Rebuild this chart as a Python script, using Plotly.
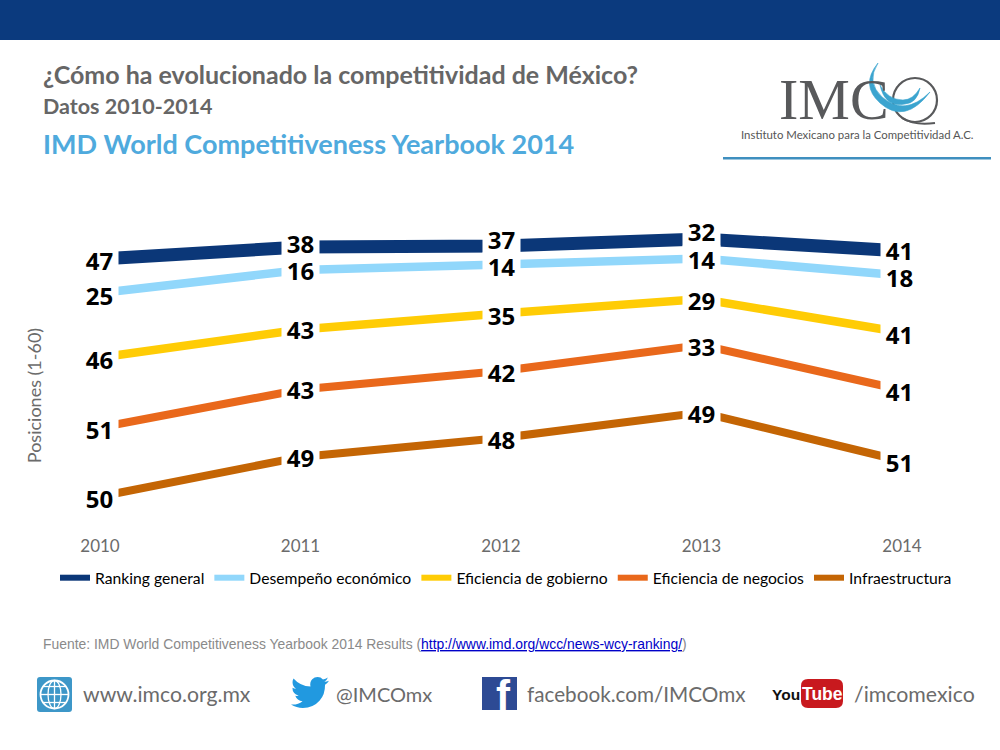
import plotly.graph_objects as go

# ---------- data ----------
years = [2010, 2011, 2012, 2013, 2014]
series_names = ["Ranking general", "Desempeño económico", "Eficiencia de gobierno",
                "Eficiencia de negocios", "Infraestructura"]
# drawn heights of the lines (the source chart is not to scale with its labels)
ranking_height = [271, 283, 284, 291, 279]
desempeno_height = [237, 260, 265.5, 271.5, 254.5]
gobierno_height = [172.5, 200.5, 216.5, 231, 197.5]
negocios_height = [102.5, 140.5, 159, 185, 140]
infra_height = [33.5, 73, 92, 117.5, 69]
# printed labels
ranking_labels = [47, 38, 37, 32, 41]
desempeno_labels = [25, 16, 14, 14, 18]
gobierno_labels = [46, 43, 35, 29, 41]
negocios_labels = [51, 43, 42, 33, 41]
infra_labels = [50, 49, 48, 49, 51]
series_colors = ["#0B3778", "#91D7FB", "#FFCC05", "#E9681B", "#C46504"]

heights = [ranking_height, desempeno_height, gobierno_height, negocios_height, infra_height]
labels = [ranking_labels, desempeno_labels, gobierno_labels, negocios_labels, infra_labels]
widths = [13, 8.5, 8.5, 8, 8]

SANS = "Lato"
GRAY = "#6B6B6B"


def px(x):
    return x / 1000


def py(y):
    return 1 - y / 750


def path(cmds):
    """cmds: list of (letter, x1, y1, ...) in page pixels"""
    out = []
    for c in cmds:
        if c[0] == "Z":
            out.append("Z")
            continue
        vals = []
        for i, v in enumerate(c[1:]):
            vals.append(f"{px(v) if i % 2 == 0 else py(v):.5f}")
        out.append(c[0] + " " + " ".join(vals))
    return " ".join(out)


def rrect(x0, y0, x1, y1, r):
    return path([("M", x0 + r, y0), ("L", x1 - r, y0), ("Q", x1, y0, x1, y0 + r), ("L", x1, y1 - r),
                 ("Q", x1, y1, x1 - r, y1), ("L", x0 + r, y1), ("Q", x0, y1, x0, y1 - r), ("L", x0, y0 + r),
                 ("Q", x0, y0, x0 + r, y0), ("Z",)])


fig = go.Figure()
for name, h, col, w in zip(series_names, heights, series_colors, widths):
    fig.add_trace(go.Scatter(x=years, y=h, mode="lines", line=dict(color=col, width=w),
                             showlegend=False, hoverinfo="skip"))
for name, col in zip(series_names, series_colors):
    fig.add_trace(go.Scatter(x=[None], y=[None], mode="lines", name=name,
                             line=dict(color=col, width=6)))

shapes = []
anns = []


def rect(x0, y0, x1, y1, col):
    shapes.append(dict(type="rect", xref="paper", yref="paper", x0=px(x0), x1=px(x1), y0=py(y0), y1=py(y1),
                       fillcolor=col, line=dict(width=0), layer="below"))


def shape_path(d, fill=None, line=None, lw=0):
    shapes.append(dict(type="path", xref="paper", yref="paper", path=d,
                       fillcolor=fill if fill else "rgba(0,0,0,0)",
                       line=dict(color=line if line else "rgba(0,0,0,0)", width=lw), layer="above"))


def ellipse(x0, y0, x1, y1, line, lw):
    shapes.append(dict(type="circle", xref="paper", yref="paper", x0=px(x0), x1=px(x1), y0=py(y0), y1=py(y1),
                       fillcolor="rgba(0,0,0,0)", line=dict(color=line, width=lw), layer="above"))


def text(t, x, y, size, color, family=SANS, bold=False, xanchor="left"):
    left_pad = 2 if xanchor == "left" else 0
    anns.append(dict(text=f"<b>{t}</b>" if bold else t, xref="paper", yref="paper", x=px(x - left_pad), y=py(y),
                     xanchor=xanchor, yanchor="middle", showarrow=False,
                     font=dict(family=family, size=size, color=color)))


# header band and titles
rect(0, 0, 1000, 40, "#0B3A7E")
text("¿Cómo ha evolucionado la competitividad de México?", 43, 74, 25, "#666666", bold=True)
text("Datos 2010-2014", 43, 106, 21.5, "#666666", bold=True)
text("IMD World Competitiveness Yearbook 2014", 43, 144, 27, "#4FAADD", bold=True)

# logo
text("IMC", 779, 99, 58, "#58595B", family="Liberation Serif")
text("Instituto Mexicano para la Competitividad A.C.", 741, 135, 11.4, "#555555")
rect(723, 157, 991, 159.5, "#3F8FBF")
ellipse(893, 78, 937, 122, "#58595B", 2.2)
shape_path(path([("M", 902, 118), ("Q", 915, 126, 935, 123)]), line="#58595B", lw=2)
shape_path(path([("M", 878, 63), ("Q", 860, 85, 880, 103), ("Q", 905, 125, 930, 92),
                 ("Q", 905, 117, 882, 97), ("Q", 866, 82, 878, 63), ("Z",)]), fill="#3BA4CF", line="#3BA4CF", lw=0.6)
shape_path(path([("M", 880, 85), ("Q", 885, 108, 905, 104), ("Q", 917, 103, 920, 88),
                 ("Q", 913, 100, 903, 100), ("Q", 888, 100, 880, 85), ("Z",)]), fill="#3BA4CF", line="#3BA4CF", lw=0.6)

# source
text('Fuente: IMD World Competitiveness Yearbook 2014 Results (<span style="color:#0000C8"><u>http://www.imd.org/wcc/news-wcy-ranking/</u></span>)',
     43, 644, 13.9, "#8A8A8A", family="Liberation Sans")

# footer: globe
shape_path(rrect(37, 677, 72, 712, 3), fill="#3D97C8")
ellipse(40.5, 680.5, 68.5, 708.5, "white", 1.8)
ellipse(48, 680.5, 61, 708.5, "white", 1.3)
shape_path(path([("M", 54.5, 680.5), ("L", 54.5, 708.5)]), line="white", lw=1.3)
shape_path(path([("M", 40.5, 694.5), ("L", 68.5, 694.5)]), line="white", lw=1.3)
shape_path(path([("M", 43, 686.5), ("L", 66, 686.5)]), line="white", lw=1.3)
shape_path(path([("M", 43, 702.5), ("L", 66, 702.5)]), line="white", lw=1.3)
text("www.imco.org.mx", 83, 694, 21.2, GRAY)

# footer: bird
bird = [("M", 24, 4.6), ("Q", 22.6, 5.2, 21.1, 5.35), ("Q", 22.6, 4.4, 23.3, 2.6), ("Q", 21.9, 3.5, 20.2, 3.8),
        ("Q", 18.8, 2.3, 16.8, 2.3), ("Q", 14.8, 2.3, 13.4, 3.7), ("Q", 11.7, 5.6, 12.3, 8.3),
        ("Q", 5.8, 8, 1.6, 3.2), ("Q", 0.97, 4.3, 0.97, 5.6), ("Q", 0.97, 8.2, 3.2, 9.7), ("Q", 2, 9.7, 0.9, 9.1),
        ("Q", 0.9, 12.9, 4.9, 14), ("Q", 3.8, 14.3, 2.7, 14.1), ("Q", 3.8, 17.2, 7.3, 17.5),
        ("Q", 4.2, 20, 0, 19.6), ("Q", 3.4, 21.8, 7.5, 21.8), ("Q", 14, 21.8, 18, 17.3),
        ("Q", 21.6, 13.3, 21.5, 7.2), ("Q", 23, 6.2, 24, 4.6), ("Z",)]
bird_px = []
for c in bird:
    if c[0] == "Z":
        bird_px.append(c)
        continue
    vals = [c[0]]
    for i, v in enumerate(c[1:]):
        vals.append(291 + v * 38 / 24 if i % 2 == 0 else 677 + (v - 2.3) * 31 / 19.5)
    bird_px.append(tuple(vals))
shape_path(path(bird_px), fill="#2199E0")
text("@IMCOmx", 336, 694, 20, GRAY)

# footer: facebook
rect(482, 677, 517, 710, "#2D4A94")
text("f", 496, 695, 42, "white", family="Liberation Sans", bold=True)
text("facebook.com/IMCOmx", 527, 694, 20.7, GRAY)

# footer: video
text("You", 772, 694, 15.5, "#111111", family="Liberation Sans", bold=True)
shape_path(rrect(801, 679, 843, 708, 7), fill="#C8191E")
text("Tube", 822, 694, 17.5, "white", family="Liberation Sans", bold=True, xanchor="center")
text("/imcomexico", 854, 694, 21.3, GRAY)

# value labels with white masks (they interrupt the lines)
year_shift = [-1.5, 0.5, -1, -0.5, -1]
ranking_shift = [-1, 4, 7, 8, 1]
x_shift = [-1, 0, 0, 0, -3]
for s, (h, lab) in enumerate(zip(heights, labels)):
    for i, yr in enumerate(years):
        anns.append(dict(text=f"<b>{lab[i]}</b>", x=yr, y=h[i], xref="x", yref="y", showarrow=False,
                         xanchor="center", yanchor="middle", xshift=x_shift[i],
                         yshift=ranking_shift[i] if s == 0 else year_shift[i],
                         width=37, height=30 if s == 0 else 26, bgcolor="white", borderpad=0,
                         font=dict(family="Open Sans", size=24, color="#000000")))

fig.update_layout(
    width=1000, height=750, margin=dict(l=0, r=0, t=0, b=0, pad=0, autoexpand=False),
    paper_bgcolor="white", plot_bgcolor="white", hovermode=False,
    xaxis=dict(domain=[0.05, 1], range=[2010 - 50 / 200.5, 2014 + 98 / 200.5],
               anchor="free", position=220 / 750,
               tickmode="array", tickvals=years, ticktext=[str(y) for y in years],
               showgrid=False, zeroline=False, showline=False, ticks="outside", ticklen=1,
               tickcolor="rgba(0,0,0,0)", tickfont=dict(family=SANS, size=17, color=GRAY)),
    yaxis=dict(domain=[179 / 750, 530 / 750], range=[-41, 310], showgrid=False, zeroline=False,
               showline=False, showticklabels=False, ticks="",
               title=dict(text="Posiciones (1-60)", standoff=2, font=dict(family=SANS, size=18, color=GRAY))),
    legend=dict(orientation="h", x=0.055, y=py(561), xanchor="left", yanchor="top",
                font=dict(family=SANS, size=15.7, color="#000000"), itemwidth=30,
                bgcolor="rgba(0,0,0,0)", traceorder="normal"),
    shapes=shapes, annotations=anns,
)
fig.write_html("out.html", config=dict(displayModeBar=False),
               post_script="document.body.style.margin='0';document.documentElement.style.overflow='hidden';")
